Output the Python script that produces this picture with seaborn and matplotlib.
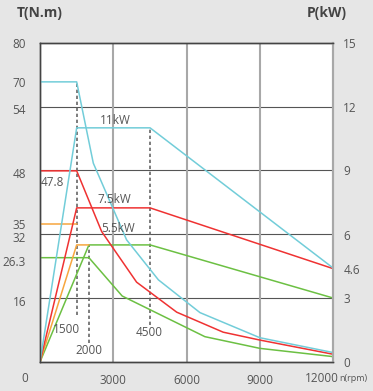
import pandas as pd
import matplotlib.pyplot as plt
import seaborn as sns

# curves: speed (rpm) vs value on the kW scale of the chart
rpm_cyan_t = [0, 1500, 2180, 3540, 4840, 6540, 8990, 12000]
val_cyan_t = [13.16, 13.16, 9.34, 5.74, 3.86, 2.32, 1.14, 0.44]
rpm_cyan_p = [0, 1500, 4500, 12000]
val_cyan_p = [0, 11.0, 11.0, 4.4]

rpm_red_t = [0, 1500, 2520, 3950, 5590, 7490, 8990, 12000]
val_red_t = [8.98, 8.98, 6.13, 3.75, 2.34, 1.40, 1.03, 0.36]
rpm_red_p = [0, 1500, 4500, 12000]
val_red_p = [0, 7.24, 7.24, 4.38]

rpm_green_t = [0, 2000, 3360, 6740, 8990, 12000]
val_green_t = [4.9, 4.9, 3.1, 1.19, 0.64, 0.25]
rpm_green_p = [0, 2000, 4500, 12000]
val_green_p = [0, 5.5, 5.5, 3.0]

rpm_orange_t = [0, 1500]
val_orange_t = [6.5, 6.5]
rpm_orange_p = [0, 1500, 2000]
val_orange_p = [0, 5.5, 5.5]

# dotted markers at base speeds
mark_rpm = [1500, 2000, 4500]
mark_top = [13.16, 5.5, 11.0]
mark_bot = [2.21, 0.88, 1.74]
mark_lbl = ["1500", "2000", "4500"]
mark_lbl_pos = [(1090, 1.53), (2003, 0.56), (4467, 1.40)]

# axis labels
t_labels = ["80", "70", "54", "48", "35", "32", "26.3", "16"]
t_pos = [15, 13.15, 11.9, 8.87, 6.5, 5.85, 4.75, 2.88]
p_labels = ["15", "12", "9", "6", "4.6", "3", "0"]
p_pos = [15, 12, 9, 5.95, 4.35, 3, 0]
hgrid = [3, 6, 9, 12]
vgrid = [3000, 6000, 9000]

sns.set_style("white")
plt.rcParams["font.family"] = ["Open Sans", "DejaVu Sans"]

fig = plt.figure(figsize=(3.73, 3.91), dpi=100)
fig.patch.set_facecolor("#e6e6e6")
ax = fig.add_axes([0.1072, 0.0742, 0.7869, 0.8166])
ax.set_facecolor("white")

for y in hgrid:
    ax.axhline(y, color="#555555", lw=0.8, zorder=1)
for x in vgrid:
    ax.axvline(x, color="#a8a8a8", lw=1.5, zorder=1)

ax.vlines(mark_rpm, mark_bot, mark_top, color="#666666", lw=1.2,
          linestyles=(0, (2, 1.6)), zorder=2)

cyan = "#72cdd9"
red = "#ef3232"
green = "#6cc043"
orange = "#f7a63e"

curves = [
    (rpm_green_t, val_green_t, green),
    (rpm_green_p, val_green_p, green),
    (rpm_orange_t, val_orange_t, orange),
    (rpm_orange_p, val_orange_p, orange),
    (rpm_red_t, val_red_t, red),
    (rpm_red_p, val_red_p, red),
    (rpm_cyan_t, val_cyan_t, cyan),
    (rpm_cyan_p, val_cyan_p, cyan),
]
for xs, ys, c in curves:
    d = pd.DataFrame({"rpm": xs, "val": ys})
    sns.lineplot(data=d, x="rpm", y="val", color=c, lw=1.1, sort=False,
                 estimator=None, ax=ax, zorder=3)

ax.set_xlim(0, 12000)
ax.set_ylim(0, 15)
ax.set_xlabel("")
ax.set_ylabel("")

ax.set_yticks(t_pos, t_labels)
ax.tick_params(axis="y", length=0, pad=10, labelsize=8.5, labelcolor="#555555")
ax.set_xticks(vgrid + [12000], ["3000", "6000", "9000", ""])
ax.tick_params(axis="x", length=0, pad=9, labelsize=8.5, labelcolor="#555555")

ax2 = ax.twinx()
ax2.set_ylim(0, 15)
ax2.set_yticks(p_pos, p_labels)
ax2.tick_params(axis="y", length=0, pad=7, labelsize=8.5, labelcolor="#555555")

for a in (ax, ax2):
    for s in ["left", "bottom", "top"]:
        a.spines[s].set_color("#444444")
        a.spines[s].set_linewidth(1.0)
    a.spines["right"].set_color("#a8a8a8")
    a.spines["right"].set_linewidth(1.5)

xt = ax.get_xaxis_transform()
ax.text(-613, -0.053, "0", transform=xt, ha="center", va="center",
        fontsize=8.5, color="#555555")
ax.text(11513, -0.053, "12000", transform=xt, ha="center", va="center",
        fontsize=8.5, color="#555555")
ax.text(12233, -0.053, "n(rpm)", transform=xt, ha="left", va="center",
        fontsize=6.5, color="#555555", clip_on=False)

for lbl, (x, y) in zip(mark_lbl, mark_lbl_pos):
    ax.text(x, y, lbl, ha="center", va="center", fontsize=8.5, color="#555555")
ax.text(3065, 11.33, "11kW", ha="center", va="center", fontsize=8.5, color="#555555")
ax.text(3037, 7.62, "7.5kW", ha="center", va="center", fontsize=8.5, color="#555555")
ax.text(3200, 6.25, "5.5kW", ha="center", va="center", fontsize=8.5, color="#555555")
ax.text(503, 8.45, "47.8", ha="center", va="center", fontsize=8.5, color="#555555")

fig.text(40 / 373, 1 - 12.7 / 391, "T(N.m)", ha="center", va="center",
         fontsize=10, fontweight="bold", color="#444444")
fig.text(326.7 / 373, 1 - 12.7 / 391, "P(kW)", ha="center", va="center",
         fontsize=10, fontweight="bold", color="#444444")

fig.savefig("out.png", dpi=100, facecolor=fig.get_facecolor())
